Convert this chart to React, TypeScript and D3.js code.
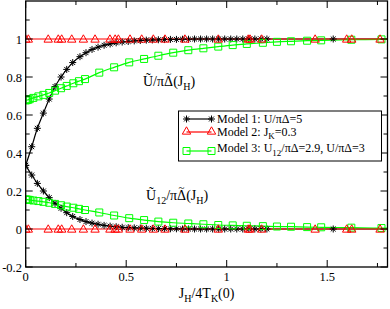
import React from "react";
import * as d3 from "d3";

// Model 1 (black stars)
const m1X = [0, 0.03, 0.058, 0.088, 0.117, 0.146, 0.176, 0.204, 0.234, 0.27, 0.3, 0.33, 0.36, 0.39, 0.42, 0.45, 0.48, 0.51, 0.54, 0.57, 0.6, 0.63, 0.66, 0.69, 0.72, 0.75, 0.78, 0.81, 0.84, 0.87, 0.9, 0.93, 0.96, 0.99, 1.02, 1.05, 1.08, 1.11, 1.14, 1.17, 1.2, 1.53];
const m1Upper = [0.335, 0.433, 0.53, 0.61, 0.684, 0.75, 0.8, 0.84, 0.876, 0.907, 0.928, 0.945, 0.957, 0.967, 0.974, 0.98, 0.984, 0.987, 0.99, 0.992, 0.994, 0.995, 0.996, 0.997, 0.998, 0.998, 0.999, 0.999, 1, 1, 1, 1, 1, 1, 1, 1, 1, 1, 1, 1, 1, 1];
const m1Lower = [0.335, 0.284, 0.24, 0.2, 0.165, 0.135, 0.109, 0.086, 0.066, 0.05, 0.039, 0.031, 0.025, 0.019, 0.015, 0.012, 0.009, 0.007, 0.006, 0.005, 0.004, 0.003, 0.002, 0.002, 0.001, 0.001, 0, 0, 0, 0, 0, 0, 0, 0, 0, 0, 0, 0, 0, 0, 0, 0];

// Model 2 (red triangles)
const m2X = [0, 0.013, 0.112, 0.162, 0.179, 0.229, 0.287, 0.345, 0.419, 0.445, 0.461, 0.519, 0.577, 0.635, 0.693, 0.792, 0.958, 1.107, 1.116, 1.174, 1.44, 1.597, 1.622, 1.763];
const m2Upper = m2X.map(() => 1);
const m2Lower = m2X.map(() => 0);

// Model 3 (green squares)
const m3X = [0, 0.005, 0.012, 0.02, 0.038, 0.063, 0.088, 0.117, 0.146, 0.176, 0.204, 0.237, 0.265, 0.295, 0.366, 0.44, 0.515, 0.589, 0.66, 0.734, 0.809, 0.884, 0.958, 1.03, 1.1, 1.18, 1.25, 1.32, 1.4, 1.47, 1.62, 1.77];
const m3Upper = [0.677, 0.678, 0.68, 0.683, 0.69, 0.698, 0.706, 0.716, 0.728, 0.741, 0.753, 0.767, 0.778, 0.789, 0.823, 0.851, 0.877, 0.895, 0.912, 0.928, 0.941, 0.951, 0.96, 0.968, 0.974, 0.98, 0.985, 0.988, 0.991, 0.993, 0.996, 0.998];
const m3Lower = [0.155, 0.155, 0.154, 0.153, 0.15, 0.147, 0.143, 0.138, 0.132, 0.125, 0.118, 0.112, 0.106, 0.1, 0.087, 0.071, 0.057, 0.047, 0.039, 0.033, 0.029, 0.025, 0.021, 0.019, 0.017, 0.015, 0.013, 0.012, 0.01, 0.009, 0.007, 0.005];

const xTicks = [0, 0.5, 1, 1.5];
const xMinor = [0.25, 0.75, 1.25, 1.75];
const yTicks = [-0.2, 0, 0.2, 0.4, 0.6, 0.8, 1];
const yMinor = [-0.1, 0.1, 0.3, 0.5, 0.7, 0.9, 1.1];

const W = 390;
const H = 309;
const FONT = "'Liberation Serif', 'Times New Roman', serif";

const x = d3.scaleLinear().domain([0, 1.8]).range([25.7, 387.5]);
const y = d3.scaleLinear().domain([-0.2, 1.2]).range([267, 1]);

const pts = (xs: number[], ys: number[]) => xs.map((v, i) => [v, ys[i]] as [number, number]);

const line = d3
  .line<[number, number]>()
  .x((d) => x(d[0]))
  .y((d) => y(d[1]))
  .curve(d3.curveMonotoneX);

// line continues flat to the right edge of the frame
const extend = (p: [number, number][]) => [...p, [1.8, p[p.length - 1][1]] as [number, number]];

const star = (cx: number, cy: number, r = 3.5) => {
  const d = r * 0.7;
  return `M${cx - r},${cy}L${cx + r},${cy}M${cx},${cy - r}L${cx},${cy + r}M${cx - d},${cy - d}L${cx + d},${cy + d}M${cx - d},${cy + d}L${cx + d},${cy - d}`;
};
const tri = (cx: number, cy: number, r = 4.2) =>
  `M${cx},${cy - r}L${cx + r},${cy + r * 0.75}L${cx - r},${cy + r * 0.75}Z`;
const sq = (cx: number, cy: number, r = 3.5) => `M${cx - r},${cy - r}h${2 * r}v${2 * r}h${-2 * r}Z`;

const series = [
  { name: "m1u", data: pts(m1X, m1Upper), color: "#000", marker: star },
  { name: "m1l", data: pts(m1X, m1Lower), color: "#000", marker: star },
  { name: "m3u", data: pts(m3X, m3Upper), color: "#00ff00", marker: sq },
  { name: "m3l", data: pts(m3X, m3Lower), color: "#00ff00", marker: sq },
  { name: "m2u", data: pts(m2X, m2Upper), color: "#ff0000", marker: tri },
  { name: "m2l", data: pts(m2X, m2Lower), color: "#ff0000", marker: tri },
];

// Delta with a tilde placed over it by hand
const DeltaTilde = () => (
  <>
    <tspan>{"\u0394"}</tspan>
    <tspan dx={-7.6} dy={-9.5} fontSize={11}>~</tspan>
    <tspan dx={1.7} dy={9.5}>(J</tspan>
  </>
);

const App = () => {
  const [x0, x1] = x.range();
  const [yb, yt] = y.range();
  return (
    <svg width={W} height={H} style={{ position: "absolute", left: 0, top: 0 }} fontFamily={FONT}>
      <defs>
        <clipPath id="plot">
          <rect x={x0} y={yt} width={x1 - x0} height={yb - yt} />
        </clipPath>
      </defs>
      <rect width={W} height={H} fill="#fff" />

      <g clipPath="url(#plot)">
        {series.map((s) => (
          <path key={s.name + "l"} d={line(extend(s.data)) || ""} fill="none" stroke={s.color} strokeWidth={1.2} />
        ))}
        {series.map((s) => (
          <g key={s.name + "m"}>
            {s.data.map((d, i) => (
              <path key={i} d={s.marker(x(d[0]), y(d[1]))} fill="none" stroke={s.color} strokeWidth={1} />
            ))}
          </g>
        ))}
      </g>

      {/* frame */}
      <rect x={x0} y={yt} width={x1 - x0} height={yb - yt} fill="none" stroke="#000" strokeWidth={1.3} />

      {/* ticks */}
      {xTicks.map((t) => (
        <g key={"xt" + t}>
          <line x1={x(t)} x2={x(t)} y1={yb} y2={yb - 7} stroke="#000" />
          <line x1={x(t)} x2={x(t)} y1={yt} y2={yt + 7} stroke="#000" />
          <text x={x(t)} y={281} textAnchor="middle" fontSize={12.5}>
            {t}
          </text>
        </g>
      ))}
      {xMinor.map((t) => (
        <g key={"xm" + t}>
          <line x1={x(t)} x2={x(t)} y1={yb} y2={yb - 4} stroke="#000" />
          <line x1={x(t)} x2={x(t)} y1={yt} y2={yt + 4} stroke="#000" />
        </g>
      ))}
      {yTicks.map((t) => (
        <g key={"yt" + t}>
          <line x1={x0} x2={x0 + 7} y1={y(t)} y2={y(t)} stroke="#000" />
          <line x1={x1} x2={x1 - 7} y1={y(t)} y2={y(t)} stroke="#000" />
          <text x={22} y={y(t) + 4.5} textAnchor="end" fontSize={12.5}>
            {t}
          </text>
        </g>
      ))}
      {yMinor.map((t) => (
        <g key={"ym" + t}>
          <line x1={x0} x2={x0 + 4} y1={y(t)} y2={y(t)} stroke="#000" />
          <line x1={x1} x2={x1 - 4} y1={y(t)} y2={y(t)} stroke="#000" />
        </g>
      ))}

      {/* curve labels */}
      <text x={143} y={86} fontSize={14}>
        {"\u0168/\u03c0"}
        <DeltaTilde />
        <tspan dy={4} fontSize={10}>H</tspan>
        <tspan dy={-4}>)</tspan>
      </text>
      <text x={146} y={200} fontSize={14}>
        {"\u0168"}
        <tspan dy={4} fontSize={10}>12</tspan>
        <tspan dy={-4}>{"/\u03c0"}</tspan>
        <DeltaTilde />
        <tspan dy={4} fontSize={10}>H</tspan>
        <tspan dy={-4}>)</tspan>
      </text>

      {/* x axis title */}
      <text x={(x0 + x1) / 2} y={298} textAnchor="middle" fontSize={14}>
        J<tspan dy={4} fontSize={10}>H</tspan>
        <tspan dy={-4}>/4T</tspan>
        <tspan dy={4} fontSize={10}>K</tspan>
        <tspan dy={-4}>(0)</tspan>
      </text>

      {/* legend */}
      <rect x={178.5} y={111} width={203} height={50} fill="#fff" stroke="#000" strokeWidth={1} />
      <g>
        <line x1={186.5} x2={211.5} y1={119} y2={119} stroke="#000" strokeWidth={1.2} />
        <path d={star(186.5, 119) + star(211.5, 119)} fill="none" stroke="#000" />
        <text x={217} y={123} fontSize={12}>{"Model 1: U/\u03c0\u0394=5"}</text>

        <line x1={186.5} x2={211.5} y1={132} y2={132} stroke="#ff0000" strokeWidth={1.2} />
        <path d={tri(186.5, 131) + tri(211.5, 131)} fill="none" stroke="#ff0000" />
        <text x={217} y={135.5} fontSize={12}>
          Model 2: J<tspan dy={3.5} fontSize={9}>K</tspan>
          <tspan dy={-3.5}>=0.3</tspan>
        </text>

        <line x1={186.5} x2={211.5} y1={151} y2={151} stroke="#00ff00" strokeWidth={1.2} />
        <path d={sq(186.5, 151) + sq(211.5, 151)} fill="none" stroke="#00ff00" />
        <text x={217} y={152} fontSize={12}>
          Model 3: U<tspan dy={4} fontSize={9}>12</tspan>
          <tspan dy={-4}>{"/\u03c0\u0394=2.9, U/\u03c0\u0394=3"}</tspan>
        </text>
      </g>
    </svg>
  );
};

export default App;
